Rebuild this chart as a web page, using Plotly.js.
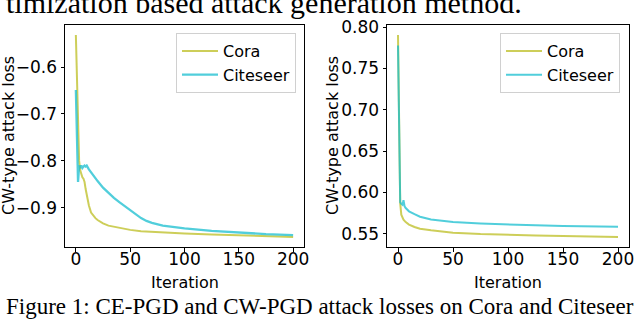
<!DOCTYPE html>
<html>
<head>
<meta charset="utf-8">
<script src="https://cdn.plot.ly/plotly-3.0.1.min.js"></script>
<style>html,body{margin:0;padding:0;background:#fff;}#chart{width:640px;height:319px;}</style>
</head>
<body>
<div id="chart"></div>
<script>
// ---- data ----
const coraLeftX = [0,1,2,3,4,5,6,7,8,9,10,12,14,16,18,20,25,30,40,50,60,75,100,125,150,175,200];
const coraLeftY = [-0.532,-0.62,-0.71,-0.80,-0.82,-0.83,-0.835,-0.838,-0.845,-0.86,-0.875,-0.895,-0.91,-0.917,-0.922,-0.926,-0.933,-0.938,-0.943,-0.947,-0.950,-0.952,-0.955,-0.957,-0.959,-0.961,-0.962];
const citeLeftX = [0,1,2,3,4,5,6,7,8,9,10,12,15,20,25,30,35,40,45,50,55,60,65,70,80,90,100,125,150,175,200];
const citeLeftY = [-0.649,-0.75,-0.845,-0.81,-0.815,-0.81,-0.815,-0.812,-0.81,-0.812,-0.81,-0.818,-0.828,-0.843,-0.857,-0.869,-0.879,-0.888,-0.897,-0.905,-0.914,-0.922,-0.928,-0.932,-0.938,-0.941,-0.944,-0.949,-0.953,-0.956,-0.958];
const coraRightX = [0,1,2,3,4,5,7,10,15,20,30,40,50,75,100,125,150,175,200];
const coraRightY = [0.7905,0.69,0.587,0.573,0.569,0.567,0.564,0.561,0.558,0.556,0.554,0.5525,0.5512,0.5495,0.5483,0.5477,0.5471,0.5466,0.546];
const citeRightX = [0,1,2,3,4,5,6,7,10,15,20,30,40,50,75,100,125,150,175,200];
const citeRightY = [0.778,0.68,0.588,0.586,0.585,0.5905,0.583,0.581,0.577,0.5735,0.5705,0.567,0.5652,0.564,0.5624,0.5608,0.560,0.5592,0.5588,0.5584];
const seriesNames = ["Cora","Citeseer"];
const xTicks = [0,50,100,150,200];
const yTicksLeft = [-0.9,-0.8,-0.7,-0.6];
const yTicksRight = [0.55,0.60,0.65,0.70,0.75,0.80];
const xTitle = "Iteration";
const yTitle = "CW-type attack loss";
const topText = "timization based attack generation method.";
const caption = "Figure 1: CE-PGD and CW-PGD attack losses on Cora and Citeseer";

const W = 640, H = 319;
const px = v => v / W;
const py = v => (H - v) / H;

const cora = "#bcbd22", cite = "#17becf";
const tickFont = {family: "DejaVu Sans, sans-serif", size: 17, color: "#000"};
const labFont = {family: "DejaVu Sans, sans-serif", size: 16, color: "#000"};
const serif = {family: "Liberation Serif, serif", color: "#000"};

function tr(x, y, name, color, xa, ya, leg, w) {
  return {x: x, y: y, name: name, type: "scatter", mode: "lines",
    line: {color: color, width: w}, opacity: 0.75,
    xaxis: xa, yaxis: ya, legend: leg, showlegend: true, legendgroup: name + leg};
}

const data = [
  tr(coraLeftX, coraLeftY, seriesNames[0], cora, "x", "y", "legend", 2),
  tr(citeLeftX, citeLeftY, seriesNames[1], cite, "x", "y", "legend", 2.3),
  tr(coraRightX, coraRightY, seriesNames[0], cora, "x2", "y2", "legend2", 2),
  tr(citeRightX, citeRightY, seriesNames[1], cite, "x2", "y2", "legend2", 2)
];

function xax(dom, anchor) {
  return {domain: dom, anchor: anchor, range: [-10, 210], tickvals: xTicks,
    showline: true, mirror: true, linecolor: "#000", linewidth: 1,
    ticks: "outside", ticklen: 3.5, tickcolor: "#000", showgrid: false, zeroline: false,
    ticklabelstandoff: -7, tickfont: tickFont};
}
function yax(dom, anchor, range, vals, fmt) {
  return {domain: dom, anchor: anchor, range: range, tickvals: vals,
    tickformat: fmt,
    showline: true, mirror: true, linecolor: "#000", linewidth: 1,
    ticks: "outside", ticklen: 3.5, tickcolor: "#000", showgrid: false, zeroline: false,
    tickfont: tickFont};
}
const ydom = [py(247), py(25)];
function leg(xr) {
  return {x: px(xr), xanchor: "right", y: py(33), yanchor: "top",
    bordercolor: "#d0d0d0", borderwidth: 1, bgcolor: "rgba(255,255,255,0.8)",
    font: labFont, tracegroupgap: 0, traceorder: "grouped", itemwidth: 36};
}
function ann(text, x, y, font, extra) {
  return Object.assign({text: text, xref: "paper", yref: "paper", x: px(x), y: py(y),
    showarrow: false, font: font, xanchor: "center", yanchor: "middle"}, extra || {});
}

const layout = {
  width: W, height: H, margin: {l: 0, r: 0, t: 0, b: 0},
  paper_bgcolor: "#fff", plot_bgcolor: "#fff",
  xaxis: xax([px(65), px(304)], "y"),
  yaxis: yax(ydom, "x", [-0.9835, -0.5105], yTicksLeft, ".1f"),
  xaxis2: xax([px(387), px(629)], "y2"),
  yaxis2: yax(ydom, "x2", [0.5338, 0.8027], yTicksRight, ".2f"),
  legend: leg(296),
  legend2: leg(620),
  annotations: [
    ann(xTitle, 184.5, 282, labFont),
    ann(xTitle, 508, 282, labFont),
    ann(yTitle, 8, 136, labFont, {textangle: -90}),
    ann(yTitle, 332, 136, labFont, {textangle: -90}),
    ann(topText, 4, 2, Object.assign({size: 30}, serif), {xanchor: "left"}),
    ann(caption, 4, 306, Object.assign({size: 23}, serif), {xanchor: "left"})
  ]
};

Plotly.newPlot("chart", data, layout, {displayModeBar: false, staticPlot: true});
</script>
</body>
</html>
